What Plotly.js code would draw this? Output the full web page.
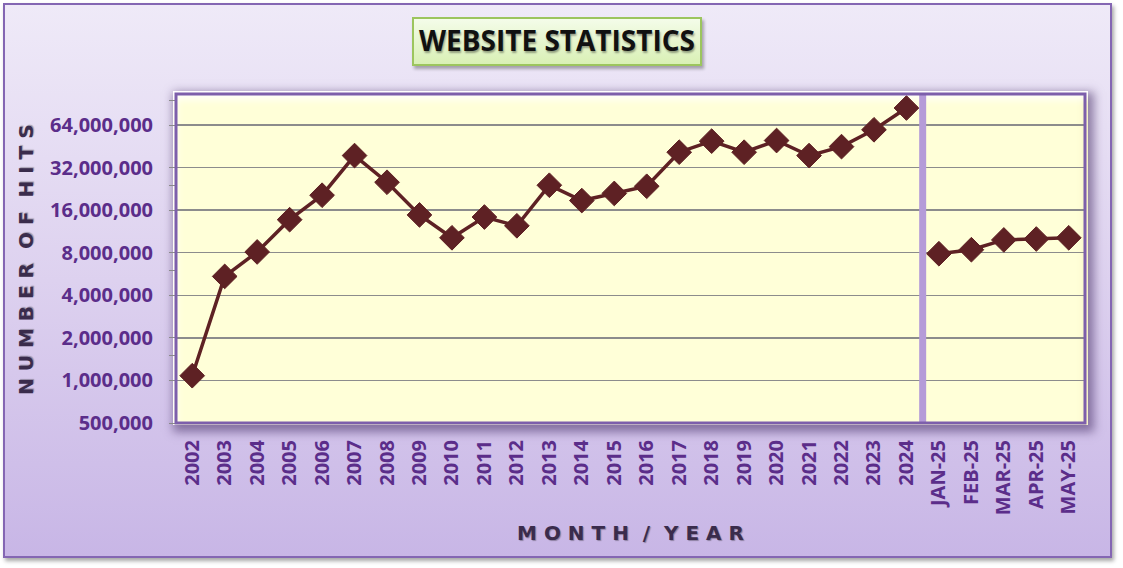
<!DOCTYPE html>
<html>
<head>
<meta charset="utf-8">
<script src="https://cdn.plot.ly/plotly-3.0.1.min.js"></script>
<style>
  html, body { margin: 0; padding: 0; background: #ffffff; }
  #wrap { position: relative; width: 1123px; height: 568px; overflow: hidden; }
  #frame { position: absolute; left: 3px; top: 3px; width: 1109px; height: 555px; box-sizing: border-box;
    border: 2px solid #8466b3;
    background: linear-gradient(to bottom, #efeaf8 0%, #ddd1ef 50%, #c8b6e6 100%);
    box-shadow: 2px 3px 4px rgba(0,0,0,0.35); }
  #plotbg { position: absolute; left: 173px; top: 91px; width: 915px; height: 334px; box-sizing: border-box;
    background: #ffffd8;
    box-shadow: 3px 4px 9px 3px rgba(70,45,100,0.55),
                inset 0 14px 8px -6px #ffffff,
                inset 9px 0 7px -5px rgba(255,255,255,0.9),
                inset -9px 0 7px -5px rgba(245,240,190,0.9); }
  #titlebox { position: absolute; left: 412px; top: 17px; width: 290px; height: 49px; box-sizing: border-box;
    border: 2px solid #9cc55e;
    background: linear-gradient(to bottom, #f4fce9 0%, #d9f0b5 100%);
    box-shadow: 2px 3px 3px rgba(0,0,0,0.3); }
  #chart { position: absolute; left: 0; top: 0; width: 1123px; height: 568px; }
</style>
</head>
<body>
<div id="wrap">
  <div id="frame"></div>
  <div id="plotbg"></div>
  <div id="titlebox"></div>
  <div id="chart"></div>
</div>
<script>
// ---- data ----
const years = ['2002','2003','2004','2005','2006','2007','2008','2009','2010','2011','2012','2013',
               '2014','2015','2016','2017','2018','2019','2020','2021','2022','2023','2024'];
const yearHits = [1080000, 5440000, 8100000, 13700000, 20400000, 38900000, 25200000, 14800000,
                  10200000, 14300000, 12400000, 24000000, 18700000, 21000000, 23600000, 41100000,
                  49200000, 41100000, 49700000, 38900000, 45000000, 59200000, 84400000];
const months = ['JAN-25','FEB-25','MAR-25','APR-25','MAY-25'];
const monthHits = [7870000, 8400000, 9850000, 10000000, 10200000];
const yTickVals = [500000, 1000000, 2000000, 4000000, 8000000, 16000000, 32000000, 64000000];
const yTickText = ['500,000','1,000,000','2,000,000','4,000,000','8,000,000','16,000,000','32,000,000','64,000,000'];
const yMinorVals = [1500000, 6000000, 24000000, 96000000];

const allCats = years.concat(months);
const lineColor = '#5e2124';

const markerStyle = { symbol: 'diamond', size: 19, color: lineColor, line: { color: lineColor, width: 1 } };

const traces = [
  { type: 'scatter', mode: 'lines+markers', x: years, y: yearHits,
    line: { color: lineColor, width: 3.5 }, marker: markerStyle, hoverinfo: 'x+y' },
  { type: 'scatter', mode: 'lines+markers', x: months, y: monthHits,
    line: { color: lineColor, width: 3.5 }, marker: markerStyle, hoverinfo: 'x+y' }
];

const tickFont = { family: 'Open Sans, sans-serif', size: 20, color: '#5b2d8a', weight: 700 };
const axTitleFont = { family: 'DejaVu Sans, sans-serif', size: 20, color: '#3a2c4c', weight: 700,
                      shadow: '1px 1px 1px rgba(0,0,0,0.3)' };

const layout = {
  width: 1123, height: 568,
  paper_bgcolor: 'rgba(0,0,0,0)', plot_bgcolor: 'rgba(0,0,0,0)',
  margin: { l: 176, r: 38, t: 94, b: 145 },
  showlegend: false,
  title: { text: 'WEBSITE STATISTICS', xref: 'container', yref: 'container',
           x: 557/1123, y: 1 - 41/568, xanchor: 'center', yanchor: 'middle',
           font: { family: 'Open Sans, sans-serif', size: 28, color: '#111111', weight: 700,
                   shadow: '1px 2px 2px rgba(0,0,0,0.35)' } },
  xaxis: { type: 'category', categoryorder: 'array', categoryarray: allCats,
           range: [-0.5, allCats.length - 0.5], tickangle: -90, ticks: '',
           tickfont: { family: 'Open Sans, sans-serif', size: 20, color: '#5b2d8a', weight: 700 },
           ticklabelstandoff: 12, showgrid: false, zeroline: false, showline: false,
           title: { text: 'M O N T H  /  Y E A R', font: axTitleFont, standoff: 11 } },
  yaxis: { type: 'log', range: [Math.log10(500000), 8.0254], tickmode: 'array',
           tickvals: yTickVals, ticktext: yTickText, tickfont: tickFont,
           ticks: 'outside', ticklen: 6, tickcolor: '#8a8a8a', ticklabelstandoff: 12,
           minor: { tickmode: 'array', tickvals: yMinorVals, ticks: 'outside', ticklen: 6, tickcolor: '#8a8a8a', showgrid: false },
           showgrid: true, gridcolor: '#8c8c8c', gridwidth: 1.3, zeroline: false, showline: false },
  annotations: [
    { text: 'N U M B E R  O F  H I T S', xref: 'paper', yref: 'paper',
      x: (26 - 176) / 909, y: (423 - 260) / 329, xanchor: 'center', yanchor: 'middle',
      textangle: -90, showarrow: false, font: axTitleFont }
  ],
  shapes: [
    { type: 'line', xref: 'x', yref: 'paper', x0: 22.5, x1: 22.5, y0: 0, y1: 1,
      line: { color: '#b59bd8', width: 7 }, layer: 'above' },
    { type: 'rect', xref: 'paper', yref: 'paper', x0: 0, x1: 1, y0: 0, y1: 1,
      line: { color: '#7d5fab', width: 3 }, fillcolor: 'rgba(0,0,0,0)', layer: 'above' }
  ]
};

Plotly.newPlot('chart', traces, layout, { displayModeBar: false, staticPlot: true });
</script>
</body>
</html>
